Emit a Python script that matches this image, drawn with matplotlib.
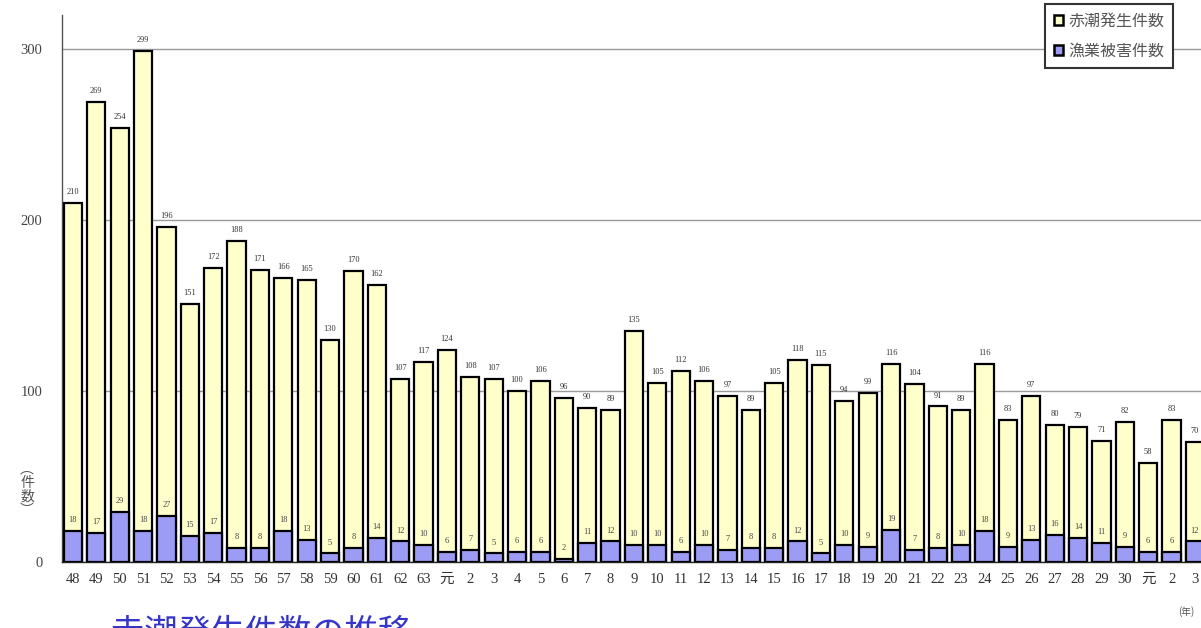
import matplotlib
matplotlib.use("Agg")
import matplotlib.pyplot as plt
from matplotlib.patches import Patch
import numpy as np

# Fiscal-year labels (Showa 48 ... Heisei 30, Reiwa 1-3)
years = (["48", "49", "50", "51", "52", "53", "54", "55", "56", "57", "58",
          "59", "60", "61", "62", "63", "元"]
         + [str(i) for i in range(2, 31)]
         + ["元", "2", "3"])

# Red tide occurrences per year
occurrences = [210, 269, 254, 299, 196, 151, 172, 188, 171, 166, 165,
               130, 170, 162, 107, 117, 124, 108, 107, 100, 106, 96,
               90, 89, 135, 105, 112, 106, 97, 89, 105, 118, 115,
               94, 99, 116, 104, 91, 89, 116, 83, 97, 80, 79,
               71, 82, 58, 83, 70]

# Cases with fishery damage
damage = [18, 17, 29, 18, 27, 15, 17, 8, 8, 18, 13,
          5, 8, 14, 12, 10, 6, 7, 5, 6, 6, 2,
          11, 12, 10, 10, 6, 10, 7, 8, 8, 12, 5,
          10, 9, 19, 7, 8, 10, 18, 9, 13, 16, 14,
          11, 9, 6, 6, 12]

legend_labels = ["赤潮発生件数", "漁業被害件数"]

YELLOW = "#FFFFCC"
BLUE = "#9C9CF5"
SERIF = ["Liberation Serif", "Noto Sans CJK JP"]
CJK = ["Noto Sans CJK JP", "DejaVu Sans"]

W, H = 1201, 628
fig = plt.figure(figsize=(W / 100, H / 100), dpi=100)
fig.patch.set_facecolor("white")

left_px, right_px, top_px, base_px = 62, 1201, 15, 562
ax = fig.add_axes([left_px / W, (H - base_px) / H,
                   (right_px - left_px) / W, (base_px - top_px) / H])

x = np.arange(len(years))
width = 0.78

ax.bar(x, occurrences, width=width, color=YELLOW, edgecolor="black",
       linewidth=1.6, zorder=3)
ax.bar(x, damage, width=width, color=BLUE, edgecolor="black",
       linewidth=1.6, zorder=4)

for xi, total, dmg in zip(x, occurrences, damage):
    ax.annotate(str(total), (xi, total), xytext=(0, 5),
                textcoords="offset points", ha="center", va="bottom",
                fontsize=6, color="#333333", family=SERIF, zorder=5)
    ax.annotate(str(dmg), (xi, dmg), xytext=(0, 5),
                textcoords="offset points", ha="center", va="bottom",
                fontsize=6, color="#444444", family=SERIF, zorder=5)

ax.set_xlim(-0.47, len(years) - 1 + 0.26)
ax.set_ylim(0, 320)
ax.set_yticks([0, 100, 200, 300])
ax.set_xticks(x)
ax.set_xticklabels(years, family=SERIF, fontsize=10.5, color="#333333")
for lbl in ax.get_yticklabels():
    lbl.set_family(SERIF)
ax.tick_params(axis="y", length=0, pad=14, labelsize=10.5,
               labelcolor="#444444")
ax.tick_params(axis="x", length=0, pad=8)

ax.grid(axis="y", color="#9a9a9a", linewidth=1.0, zorder=0)
ax.set_axisbelow(True)
for side in ("top", "right"):
    ax.spines[side].set_visible(False)
ax.spines["left"].set_color("#555555")
ax.spines["left"].set_linewidth(1.0)
ax.spines["bottom"].set_color("#222222")
ax.spines["bottom"].set_linewidth(1.0)

# Vertical unit label
fig.text(27 / W, 1 - 490 / H, "︵\n件\n数\n︶", family=CJK, fontsize=10,
         color="#555555", ha="center", va="center", linespacing=0.95)

# Year unit at the lower right
fig.text(1186 / W, 1 - 612 / H, "(年)", family=CJK, fontsize=7,
         color="#555555", ha="center", va="center")

# Legend
handles = [Patch(facecolor=YELLOW, edgecolor="black", linewidth=1.8),
           Patch(facecolor=BLUE, edgecolor="black", linewidth=1.8)]
leg = fig.legend(handles, legend_labels, loc="upper left",
                 bbox_to_anchor=(1045 / W, 1 - 4 / H),
                 prop={"family": CJK, "size": 11.5},
                 handlelength=0.6, handleheight=0.6, handletextpad=0.3,
                 labelspacing=0.8, borderpad=0.55, borderaxespad=0,
                 fancybox=False, framealpha=1, edgecolor="#333333",
                 labelcolor="#555555")
leg.get_frame().set_linewidth(1.5)

# Caption running off the bottom edge
fig.text(70 / W, 1 - 616 / H, "ー 赤潮発生件数の推移", family=CJK,
         fontsize=24, color="#3535c8", ha="left", va="top")

fig.savefig("out.png", dpi=100, facecolor="white")
